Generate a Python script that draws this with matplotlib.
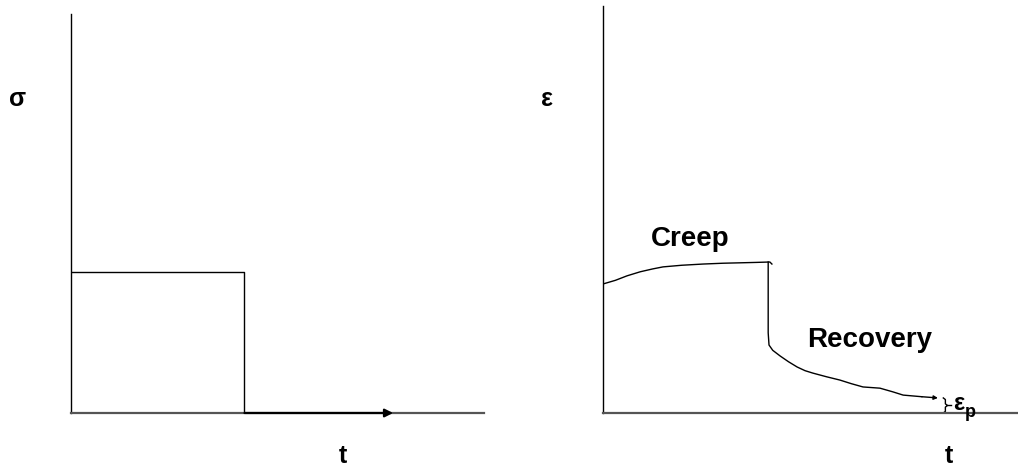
import numpy as np
import matplotlib.pyplot as plt

plt.rcParams['font.family'] = ['Liberation Sans', 'DejaVu Sans']

# stress history: constant load, then removed
stress_t = [0.0, 4.2, 4.2, 7.8]
stress_v = [3.53, 3.53, 0.0, 0.0]

# strain response: creep under load, then recovery
creep_t = [0.0, 0.3, 0.58, 0.9, 1.2, 1.45, 1.9, 2.42, 2.9, 3.31, 3.7, 4.03, 4.08]
creep_v = [3.17, 3.26, 3.37, 3.47, 3.54, 3.59, 3.63, 3.66, 3.68, 3.69, 3.70, 3.71, 3.66]
recov_t = [3.99, 3.99, 3.99, 4.01, 4.10, 4.28, 4.48, 4.69, 4.88, 5.07, 5.40,
           5.72, 6.00, 6.28, 6.69, 7.00, 7.25, 7.70, 8.09]
recov_v = [3.71, 2.60, 1.97, 1.67, 1.54, 1.40, 1.26, 1.13, 1.04, 0.98, 0.89,
           0.81, 0.72, 0.64, 0.61, 0.52, 0.44, 0.40, 0.37]
perm_strain = 0.37

W, H = 1018, 469
fig = plt.figure(figsize=(W / 100, H / 100), dpi=100)


def make_axes(x0, x1, y0, y1):
    ax = fig.add_axes([x0 / W, 1 - y1 / H, (x1 - x0) / W, (y1 - y0) / H])
    ax.set_xlim(0, 10)
    ax.set_ylim(0, 10)
    ax.set_xticks([])
    ax.set_yticks([])
    for s in ['top', 'right']:
        ax.spines[s].set_visible(False)
    ax.spines['left'].set_color('black')
    ax.spines['left'].set_linewidth(1.0)
    ax.spines['bottom'].set_color('#555555')
    ax.spines['bottom'].set_linewidth(1.6)
    ax.patch.set_alpha(0)
    return ax


ax1 = make_axes(71, 484, 14, 413)
ax1.plot(stress_t[:3], stress_v[:3], color='black', lw=1.0)
ax1.annotate('', xy=(stress_t[3], 0), xytext=(stress_t[2], 0),
             arrowprops=dict(arrowstyle='-|>', color='black', lw=1.6,
                             mutation_scale=12, shrinkA=0, shrinkB=0))

ax2 = make_axes(603, 1017, 6, 413)
ax2.plot(creep_t, creep_v, color='black', lw=1.0)
ax2.plot(recov_t[:-1], recov_v[:-1], color='black', lw=1.0)
ax2.annotate('', xy=(recov_t[-1], recov_v[-1]), xytext=(recov_t[-2], recov_v[-2]),
             arrowprops=dict(arrowstyle='-|>', color='black', lw=1.0,
                             mutation_scale=6, shrinkA=0, shrinkB=0))

# brace marking the permanent strain, with its label
bx = recov_t[-1] + 0.13
bw = 0.1
mid = perm_strain / 2
brace_x = [bx, bx + bw * 0.5, bx + bw * 0.5, bx + bw, bx + bw * 0.5, bx + bw * 0.5, bx]
brace_y = [perm_strain, perm_strain - 0.04, mid + 0.04, mid, mid - 0.04, 0.04, 0.0]
ax2.plot(brace_x, brace_y, color='black', lw=1.0)
ax2.plot([bx + bw, bx + bw + 0.09], [mid, mid], color='black', lw=1.0)
ax2.text(bx + bw + 0.14, mid + 0.05, 'ε', fontsize=17, fontweight='bold',
         ha='left', va='center')
ax2.text(bx + bw + 0.43, mid - 0.18, 'p', fontsize=13, fontweight='bold',
         ha='left', va='center')

ax2.text(2.1, 4.28, 'Creep', fontsize=20, fontweight='bold', ha='center', va='center')
ax2.text(6.45, 1.80, 'Recovery', fontsize=20, fontweight='bold', ha='center', va='center')

fig.text(18 / W, 1 - 99 / H, 'σ', fontsize=18, fontweight='bold', ha='center', va='center')
fig.text(343 / W, 1 - 456 / H, 't', fontsize=18, fontweight='bold', ha='center', va='center')
fig.text(547 / W, 1 - 99 / H, 'ε', fontsize=18, fontweight='bold', ha='center', va='center')
fig.text(949 / W, 1 - 456 / H, 't', fontsize=18, fontweight='bold', ha='center', va='center')

fig.savefig('out.png', dpi=100, facecolor='white')
